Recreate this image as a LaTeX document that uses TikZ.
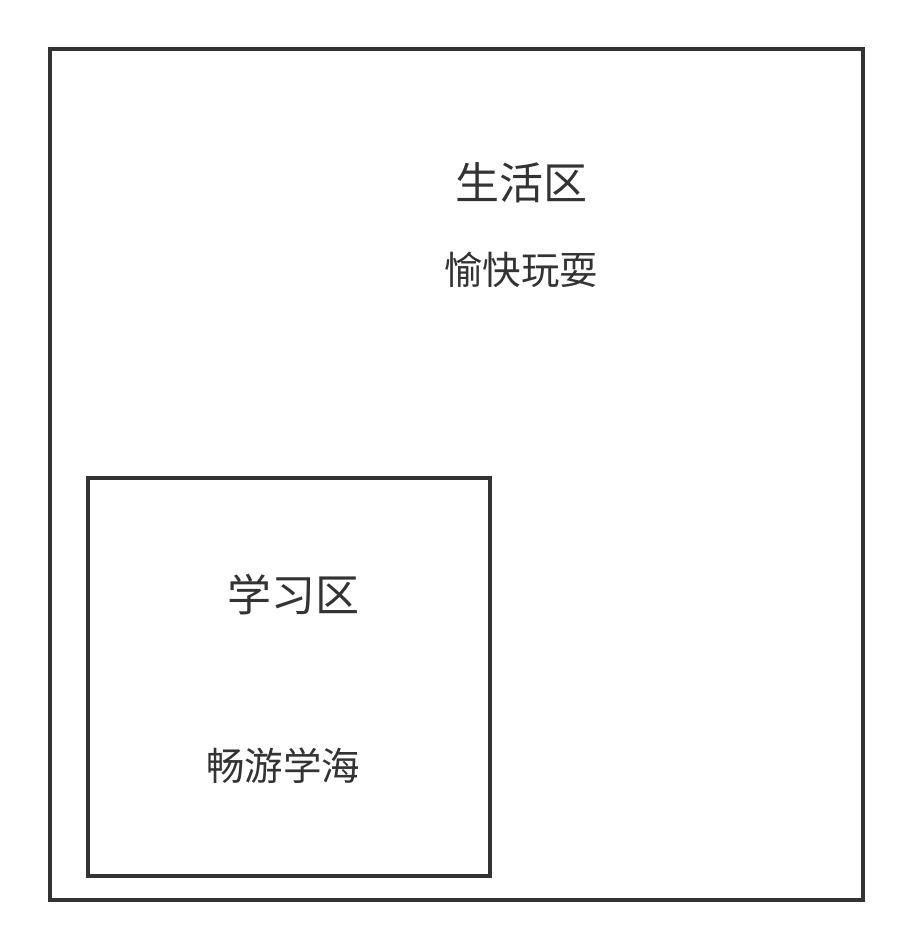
\documentclass[tikz,border=0pt]{standalone}
\usepackage{fontspec}
\setmainfont{Noto Sans CJK SC}
\usepackage{tikz}
\definecolor{linegray}{HTML}{333333}

\begin{document}
\begin{tikzpicture}[x=1pt,y=-1pt,line width=3.8pt,
  title/.style={text=linegray,inner sep=0pt,font=\fontsize{44}{50}\selectfont},
  motto/.style={text=linegray,inner sep=0pt,font=\fontsize{38.5}{44}\selectfont}]

\useasboundingbox (0,0) rectangle (912,952);

\draw [linegray] (50,49) coordinate (lifeA) rectangle (863,900) coordinate (lifeB);
\draw [linegray] (88,478) coordinate (studyA) rectangle (490,876) coordinate (studyB);

\node[title] (lifeTitle) at (521,183) {生活区};
\node[motto] (lifeMotto) at (521,270) {愉快玩耍};

\node[title] (studyTitle) at (293,595) {学习区};
\node[motto] (studyMotto) at (283,766) {畅游学海};

\end{tikzpicture}
\end{document}
